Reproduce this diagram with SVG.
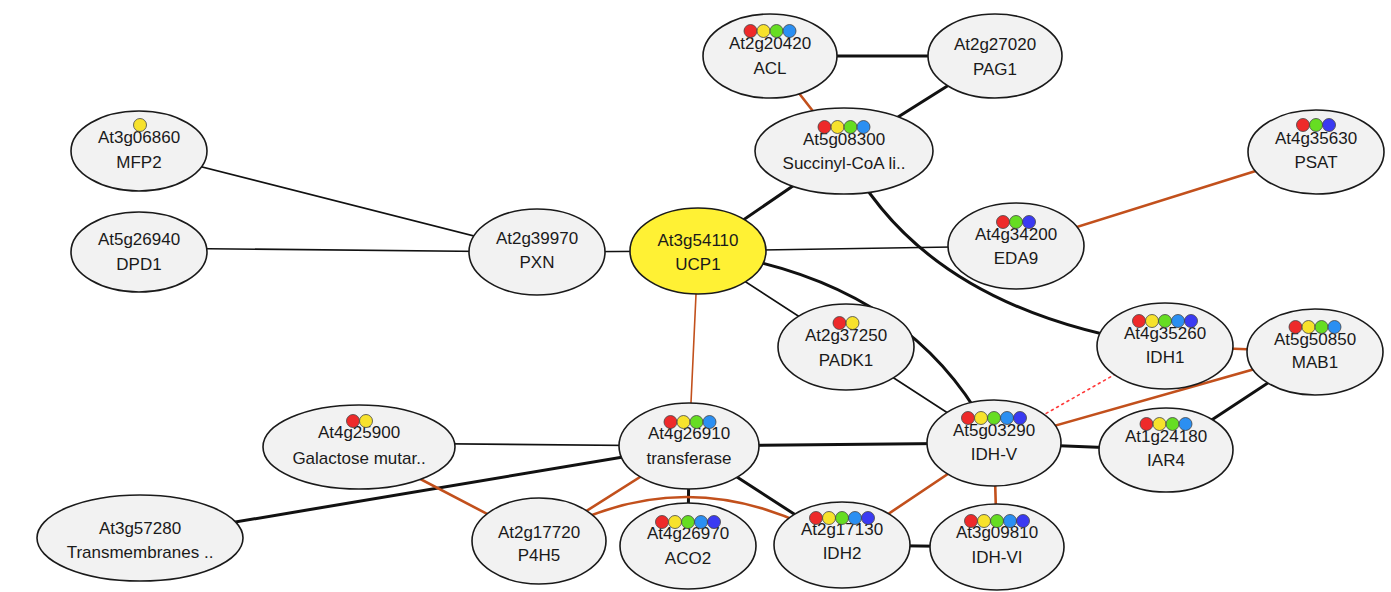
<svg xmlns="http://www.w3.org/2000/svg" width="1391" height="592" viewBox="0 0 1391 592">
<style>
.n ellipse{fill:#f2f2f2;stroke:#1a1a1a;stroke-width:1.6}
.n text{font-family:"Liberation Sans",Arial,sans-serif;font-size:17px;fill:#1a1a1a;text-anchor:middle}
.e{fill:none;stroke-linecap:round}
.k3{stroke:#111;stroke-width:3}
.k1{stroke:#111;stroke-width:1.6}
.o3{stroke:#c2501c;stroke-width:2.6}
.o1{stroke:#c2501c;stroke-width:1.6}
.rd{stroke:#ff3b3b;stroke-width:1.6;stroke-dasharray:2 4}
.d circle{stroke:#444;stroke-width:0.8}
.R{fill:#ee2a2a}.Y{fill:#f7e22c}.G{fill:#66dd22}.B{fill:#2b8ff2}.D{fill:#3a3af2}
</style>
<rect width="1391" height="592" fill="#ffffff"/>
<g id="connectors">
<line class="e k3" x1="770" y1="56" x2="995" y2="56"/>
<line class="e k3" x1="995" y1="56" x2="844" y2="151"/>
<line class="e o3" x1="770" y1="56" x2="844" y2="151"/>
<line class="e k3" x1="844" y1="151" x2="698" y2="251"/>
<path class="e k3" d="M844,151 Q925,311 1165,346"/>
<path class="e k3" d="M698,251 Q914,279 994,443"/>
<line class="e k1" x1="139" y1="151" x2="537" y2="252"/>
<line class="e k1" x1="139" y1="248" x2="537" y2="252"/>
<line class="e k1" x1="537" y1="252" x2="698" y2="251"/>
<line class="e k1" x1="698" y1="251" x2="1016" y2="246"/>
<line class="e k1" x1="698" y1="251" x2="846" y2="347"/>
<line class="e k1" x1="846" y1="347" x2="994" y2="443"/>
<line class="e o1" x1="698" y1="251" x2="689" y2="446"/>
<line class="e o3" x1="1016" y1="246" x2="1316" y2="152"/>
<line class="e o3" x1="1165" y1="346" x2="1315" y2="352"/>
<line class="e o3" x1="994" y1="443" x2="1315" y2="352"/>
<line class="e rd" x1="994" y1="443" x2="1165" y2="346"/>
<line class="e k3" x1="1166" y1="450" x2="1315" y2="352"/>
<line class="e k3" x1="994" y1="443" x2="1166" y2="450"/>
<line class="e k1" x1="359" y1="443" x2="689" y2="446"/>
<line class="e k3" x1="140" y1="538" x2="689" y2="446"/>
<line class="e k3" x1="689" y1="446" x2="994" y2="443"/>
<line class="e k3" x1="689" y1="446" x2="842" y2="545"/>
<line class="e k3" x1="689" y1="446" x2="688" y2="546"/>
<line class="e o3" x1="359" y1="447" x2="539" y2="541"/>
<line class="e o3" x1="689" y1="446" x2="539" y2="541"/>
<path class="e o3" d="M539,541 Q689,451 842,545"/>
<line class="e o3" x1="994" y1="443" x2="842" y2="545"/>
<line class="e o3" x1="994" y1="443" x2="997" y2="547"/>
<line class="e k3" x1="842" y1="545" x2="997" y2="547"/>
</g>
<g id="ACL" class="n"><ellipse cx="770" cy="56" rx="67" ry="42"/><text x="770" y="49">At2g20420</text><text x="770" y="74">ACL</text>
<g class="d"><circle class="R" cx="750.5" cy="31" r="6.5"/><circle class="Y" cx="763.5" cy="31" r="6.5"/><circle class="G" cx="776.5" cy="31" r="6.5"/><circle class="B" cx="789.5" cy="31" r="6.5"/></g></g>
<g id="PAG1" class="n"><ellipse cx="995" cy="56" rx="67" ry="42"/><text x="995" y="50">At2g27020</text><text x="995" y="75">PAG1</text></g>
<g id="Succinyl" class="n"><ellipse cx="844" cy="151" rx="89" ry="43"/><text x="844" y="145">At5g08300</text><text x="844" y="169">Succinyl-CoA li..</text>
<g class="d"><circle class="R" cx="824.5" cy="127" r="6.5"/><circle class="Y" cx="837.5" cy="127" r="6.5"/><circle class="G" cx="850.5" cy="127" r="6.5"/><circle class="B" cx="863.5" cy="127" r="6.5"/></g></g>
<g id="MFP2" class="n"><ellipse cx="139" cy="151" rx="68" ry="40"/><text x="139" y="143">At3g06860</text><text x="139" y="168">MFP2</text>
<g class="d"><circle class="Y" cx="140" cy="125" r="6.5"/></g></g>
<g id="DPD1" class="n"><ellipse cx="139" cy="252" rx="68" ry="40"/><text x="139" y="245">At5g26940</text><text x="139" y="270">DPD1</text></g>
<g id="PXN" class="n"><ellipse cx="537" cy="252" rx="68" ry="43"/><text x="537" y="244">At2g39970</text><text x="537" y="268">PXN</text></g>
<g id="UCP1" class="n"><ellipse cx="698" cy="251" rx="68" ry="43" style="fill:#fff134"/><text x="698" y="246">At3g54110</text><text x="698" y="270">UCP1</text></g>
<g id="EDA9" class="n"><ellipse cx="1016" cy="246" rx="68" ry="43"/><text x="1016" y="240">At4g34200</text><text x="1016" y="264">EDA9</text>
<g class="d"><circle class="R" cx="1003" cy="222" r="6.5"/><circle class="G" cx="1016" cy="222" r="6.5"/><circle class="D" cx="1029" cy="222" r="6.5"/></g></g>
<g id="PSAT" class="n"><ellipse cx="1316" cy="152" rx="68" ry="42"/><text x="1316" y="144">At4g35630</text><text x="1316" y="168">PSAT</text>
<g class="d"><circle class="R" cx="1303" cy="125" r="6.5"/><circle class="G" cx="1316" cy="125" r="6.5"/><circle class="D" cx="1329" cy="125" r="6.5"/></g></g>
<g id="PADK1" class="n"><ellipse cx="846" cy="347" rx="68" ry="43"/><text x="846" y="341">At2g37250</text><text x="846" y="366">PADK1</text>
<g class="d"><circle class="R" cx="839.5" cy="323" r="6.5"/><circle class="Y" cx="852.5" cy="323" r="6.5"/></g></g>
<g id="IDH1" class="n"><ellipse cx="1165" cy="346" rx="68" ry="43"/><text x="1165" y="339">At4g35260</text><text x="1165" y="363">IDH1</text>
<g class="d"><circle class="R" cx="1139" cy="321" r="6.5"/><circle class="Y" cx="1152" cy="321" r="6.5"/><circle class="G" cx="1165" cy="321" r="6.5"/><circle class="B" cx="1178" cy="321" r="6.5"/><circle class="D" cx="1191" cy="321" r="6.5"/></g></g>
<g id="MAB1" class="n"><ellipse cx="1315" cy="352" rx="68" ry="43"/><text x="1315" y="345">At5g50850</text><text x="1315" y="368">MAB1</text>
<g class="d"><circle class="R" cx="1295.5" cy="327" r="6.5"/><circle class="Y" cx="1308.5" cy="327" r="6.5"/><circle class="G" cx="1321.5" cy="327" r="6.5"/><circle class="B" cx="1334.5" cy="327" r="6.5"/></g></g>
<g id="Galactose" class="n"><ellipse cx="359" cy="447" rx="96" ry="42"/><text x="359" y="438">At4g25900</text><text x="359" y="464">Galactose mutar..</text>
<g class="d"><circle class="R" cx="353" cy="421" r="6.5"/><circle class="Y" cx="366" cy="421" r="6.5"/></g></g>
<g id="transferase" class="n"><ellipse cx="689" cy="446" rx="70" ry="43"/><text x="689" y="439">At4g26910</text><text x="689" y="464">transferase</text>
<g class="d"><circle class="R" cx="670.5" cy="422" r="6.5"/><circle class="Y" cx="683.5" cy="422" r="6.5"/><circle class="G" cx="696.5" cy="422" r="6.5"/><circle class="B" cx="709.5" cy="422" r="6.5"/></g></g>
<g id="IDH-V" class="n"><ellipse cx="994" cy="443" rx="67" ry="43"/><text x="994" y="436">At5g03290</text><text x="994" y="460">IDH-V</text>
<g class="d"><circle class="R" cx="968" cy="418" r="6.5"/><circle class="Y" cx="981" cy="418" r="6.5"/><circle class="G" cx="994" cy="418" r="6.5"/><circle class="B" cx="1007" cy="418" r="6.5"/><circle class="D" cx="1020" cy="418" r="6.5"/></g></g>
<g id="IAR4" class="n"><ellipse cx="1166" cy="450" rx="67" ry="42"/><text x="1166" y="442">At1g24180</text><text x="1166" y="466">IAR4</text>
<g class="d"><circle class="R" cx="1146.5" cy="424" r="6.5"/><circle class="Y" cx="1159.5" cy="424" r="6.5"/><circle class="G" cx="1172.5" cy="424" r="6.5"/><circle class="B" cx="1185.5" cy="424" r="6.5"/></g></g>
<g id="Transmembrane" class="n"><ellipse cx="140" cy="538" rx="103" ry="43"/><text x="140" y="534">At3g57280</text><text x="140" y="558">Transmembranes ..</text></g>
<g id="P4H5" class="n"><ellipse cx="539" cy="541" rx="67" ry="43"/><text x="539" y="538">At2g17720</text><text x="539" y="561">P4H5</text></g>
<g id="ACO2" class="n"><ellipse cx="688" cy="546" rx="68" ry="43"/><text x="688" y="539">At4g26970</text><text x="688" y="564">ACO2</text>
<g class="d"><circle class="R" cx="662" cy="522" r="6.5"/><circle class="Y" cx="675" cy="522" r="6.5"/><circle class="G" cx="688" cy="522" r="6.5"/><circle class="B" cx="701" cy="522" r="6.5"/><circle class="D" cx="714" cy="522" r="6.5"/></g></g>
<g id="IDH2" class="n"><ellipse cx="842" cy="545" rx="68" ry="43"/><text x="842" y="535">At2g17130</text><text x="842" y="559">IDH2</text>
<g class="d"><circle class="R" cx="816" cy="518" r="6.5"/><circle class="Y" cx="829" cy="518" r="6.5"/><circle class="G" cx="842" cy="518" r="6.5"/><circle class="B" cx="855" cy="518" r="6.5"/><circle class="D" cx="868" cy="518" r="6.5"/></g></g>
<g id="IDH-VI" class="n"><ellipse cx="997" cy="547" rx="67" ry="43"/><text x="997" y="538">At3g09810</text><text x="997" y="563">IDH-VI</text>
<g class="d"><circle class="R" cx="971" cy="521" r="6.5"/><circle class="Y" cx="984" cy="521" r="6.5"/><circle class="G" cx="997" cy="521" r="6.5"/><circle class="B" cx="1010" cy="521" r="6.5"/><circle class="D" cx="1023" cy="521" r="6.5"/></g></g>
</svg>
